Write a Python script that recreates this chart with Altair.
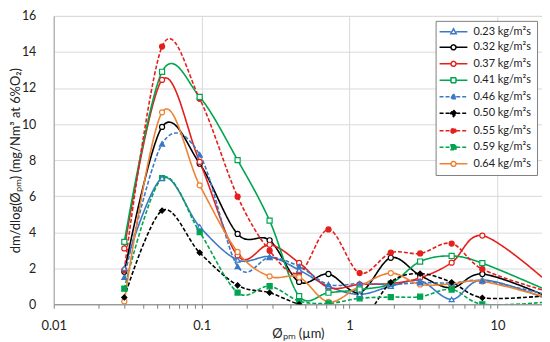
import altair as alt
import pandas as pd

series = ["0.23 kg/m²s", "0.32 kg/m²s", "0.37 kg/m²s", "0.41 kg/m²s", "0.46 kg/m²s",
          "0.50 kg/m²s", "0.55 kg/m²s", "0.59 kg/m²s", "0.64 kg/m²s"]
diam = [0.03, 0.054, 0.097, 0.175, 0.288, 0.456, 0.72, 1.17, 1.9, 3.0, 4.9, 7.9, 20]

v023 = [2.0, 7.0, 4.3, 2.46, 2.64, 1.9, 1.0, 0.55, 1.0, 1.3, 0.27, 1.35, 0.4]
v032 = [1.8, 9.84, 7.8, 3.9, 3.55, 1.24, 1.68, 0.65, 2.58, 1.6, 0.91, 1.68, 0.55]
v037 = [3.1, 12.45, 7.9, 2.7, 3.3, 2.3, 0.93, 1.1, 1.15, 1.47, 2.31, 3.81, 1.5]
v041 = [3.46, 12.9, 11.5, 8.0, 4.64, 0.45, 0.64, 0.82, 1.15, 2.37, 2.68, 2.28, 0.9]
v046 = [1.5, 8.9, 8.3, 2.1, 2.6, 2.1, 1.1, 1.15, 1.1, 1.2, 1.18, 1.3, 0.6]
v050 = [0.38, 5.2, 2.86, 1.05, 0.64, 0.0, -0.3, -1.0, 1.22, 1.7, 1.22, 0.36, 0.45]
v055 = [1.9, 14.3, 11.4, 5.97, 2.97, 1.73, 4.15, 1.73, 2.86, 2.82, 3.37, 1.95, 0.8]
v059 = [0.87, 7.0, 4.0, 0.65, 1.0, 0.18, 0.05, 0.33, 0.4, 0.42, 0.82, 0.0, 0.1]
v064 = [0.16, 10.65, 6.6, 2.9, 1.55, 1.5, 0.13, 1.0, 1.73, 1.1, 1.13, 1.27, 0.45]
values = [v023, v032, v037, v041, v046, v050, v055, v059, v064]

colors = ["#3A78C3", "#000000", "#E3201C", "#00A550", "#3A78C3",
          "#000000", "#E3201C", "#00A550", "#EE8233"]
dashes = [[1, 0], [1, 0], [1, 0], [1, 0], [4, 2], [4, 2], [4, 2], [4, 2], [1, 0]]
fills = ["white", "white", "white", "white", "#3A78C3", "#000000", "#E3201C", "#00A550", "white"]
markers = ["triangle-up", "circle", "circle", "square", "triangle-up",
           "diamond", "circle", "square", "circle"]

# legend symbols: line + marker (unit coordinates)
seg = "M-2.8,0H-0.55M0.55,0H2.8"
circ = "M-0.5,0a0.5,0.5 0 1,0 1,0a0.5,0.5 0 1,0 -1,0Z"
sq = "M-0.5,-0.5H0.5V0.5H-0.5Z"
tri = "M0,-0.6L0.55,0.4L-0.55,0.4Z"
dia = "M0,-0.65L0.6,0L0,0.65L-0.6,0Z"
mpath = {"circle": circ, "square": sq, "triangle-up": tri, "diamond": dia}
legend_paths = [seg + mpath[m] for m in markers]

rows = []
for s, vals, m in zip(series, values, markers):
    for i, (d, v) in enumerate(zip(diam, vals)):
        rows.append({"series": s, "d": d, "v": v, "marker": m, "order": i})
df = pd.DataFrame(rows)

FONT = "Lato"
decade_test = "abs(log(datum.value)/LN10 - round(log(datum.value)/LN10)) < 1e-6"
minor = [k * 10.0 ** e for e in (-2, -1, 0) for k in range(1, 10)] + [10.0]

xenc = alt.X("d:Q", scale=alt.Scale(type="log", domain=[0.01, 20], nice=False),
             axis=alt.Axis(values=minor, format="~g",
                           labelExpr=f"({decade_test}) ? datum.label : ''",
                           grid=True, gridColor="#d9d9d9",
                           gridOpacity={"condition": {"test": decade_test, "value": 1}, "value": 0},
                           tickColor="#808080", tickSize=4, domainColor="#808080",
                           labelFont=FONT, labelFontSize=13, labelColor="#222",
                           labelPadding=11, labelFlush=False,
                           title="Øₚₘ (µm)", titleFont=FONT, titleFontSize=13,
                           titleFontWeight="normal", titleColor="#222", titleY=23,
                           titleBaseline="top"))
yenc = alt.Y("v:Q", scale=alt.Scale(domain=[0, 16], nice=False),
             axis=alt.Axis(values=list(range(0, 17, 2)), grid=True, gridColor="#d9d9d9",
                           ticks=False, domainColor="#a6a6a6",
                           labelFont=FONT, labelFontSize=12.5, labelColor="#222", labelPadding=18,
                           title="dm/dlog(Øₚₘ) (mg/Nm³ at 6%O₂)", titleFont=FONT,
                           titleFontSize=13, titleFontWeight="normal", titleColor="#222",
                           titleX=-38, titleBaseline="middle"))

cscale = alt.Scale(domain=series, range=colors)
dscale = alt.Scale(domain=series, range=dashes)
fscale = alt.Scale(domain=series, range=fills)
sscale = alt.Scale(domain=series, range=legend_paths)

base = alt.Chart(df)

lines = base.mark_line(interpolate="cardinal", tension=0, strokeWidth=1.6, clip=True).encode(
    x=xenc, y=yenc,
    color=alt.Color("series:N", scale=cscale, legend=None),
    strokeDash=alt.StrokeDash("series:N", scale=dscale, legend=None),
    order="order:Q",
)

point_layers = []
for shp in ["circle", "square", "triangle-up", "diamond"]:
    point_layers.append(
        base.transform_filter((alt.datum.marker == shp) & (alt.datum.d < 19))
        .mark_point(shape=shp, size=26, strokeWidth=1.2, opacity=1, clip=True)
        .encode(x=xenc, y=yenc,
                color=alt.Color("series:N", scale=cscale, legend=None),
                fill=alt.Fill("series:N", scale=fscale, legend=None))
    )

data_layer = alt.layer(lines, *point_layers)

leg = alt.Legend(title=None, orient="none", legendX=384, legendY=5,
                 symbolSize=100, symbolStrokeWidth=1.5, symbolOffset=7, labelOffset=14,
                 labelFont=FONT, labelFontSize=11, labelColor="#222",
                 fillColor="white", strokeColor="#808080", padding=5, rowPadding=4.6)

legend_layer = base.transform_filter("false").mark_point(opacity=1, strokeWidth=1.5).encode(
    x=xenc, y=yenc,
    color=alt.Color("series:N", scale=cscale, legend=leg),
    fill=alt.Fill("series:N", scale=fscale, legend=leg),
    shape=alt.Shape("series:N", scale=sscale, legend=leg),
    strokeDash=alt.StrokeDash("series:N", scale=dscale, legend=leg),
)

chart = alt.layer(data_layer, legend_layer).resolve_scale(
    color="independent", fill="independent", strokeDash="independent", shape="independent"
).properties(
    width=491, height=290,
    autosize=alt.AutoSizeParams(type="none"),
    padding={"left": 46, "top": 7, "right": 0, "bottom": 37},
).configure_view(stroke="#bfbfbf").configure(background="white")

chart.save("out.html", embed_options={"renderer": "svg", "actions": False})
